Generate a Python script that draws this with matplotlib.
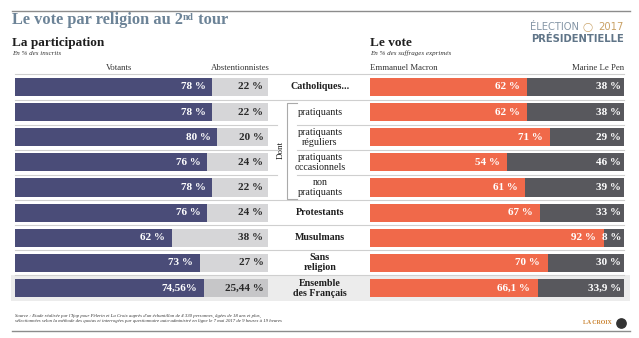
import matplotlib
matplotlib.use("Agg")
import matplotlib.pyplot as plt
from matplotlib.transforms import blended_transform_factory
from matplotlib.patches import Rectangle

# --- data -----------------------------------------------------------------
categories = ["Catholiques...", "pratiquants", "pratiquants\nréguliers",
              "pratiquants\noccasionnels", "non\npratiquants", "Protestants",
              "Musulmans", "Sans\nreligion", "Ensemble\ndes Français"]
bold_rows = [True, False, False, False, False, True, True, True, True]
votants = [78, 78, 80, 76, 78, 76, 62, 73, 74.56]
abstention = [22, 22, 20, 24, 22, 24, 38, 27, 25.44]
macron = [62, 62, 71, 54, 61, 67, 92, 70, 66.1]
le_pen = [38, 38, 29, 46, 39, 33, 8, 30, 33.9]

# --- style ----------------------------------------------------------------
W, H = 639, 338
C_VOT = "#4a4c78"
C_ABS = "#d6d6d8"
C_ABS_TOT = "#c6c6c8"
C_MAC = "#f0694a"
C_LEP = "#58585d"
C_SEP = "#cfcfcf"
C_TXT = "#1e1e1e"
SERIF = "Liberation Serif"


def pct(v):
    s = f"{v:g}".replace(".", ",")
    return f"{s} %"


fig = plt.figure(figsize=(W / 100, H / 100), dpi=100)
fig.patch.set_facecolor("white")

# pixel-space canvas for the frame, headers and separators
bg = fig.add_axes([0, 0, 1, 1])
bg.set_xlim(0, W)
bg.set_ylim(H, 0)
bg.axis("off")

# bar panels share the same row geometry
top_px, bot_px = 74.4, 300.6
ax_b = 1 - bot_px / H
ax_h = (bot_px - top_px) / H
ax_l = fig.add_axes([15 / W, ax_b, 253 / W, ax_h])
ax_r = fig.add_axes([370 / W, ax_b, 254 / W, ax_h])
n = len(categories)
rows = list(range(n))
for ax in (ax_l, ax_r):
    ax.set_xlim(0, 100)
    ax.set_ylim(n - 0.5, -0.5)
    ax.axis("off")
    ax.patch.set_alpha(0)

mix = blended_transform_factory(bg.transData, ax_l.transData)

# highlighted band behind the overall row
bg.add_patch(Rectangle((11, n - 1.5), 619, 1.0, transform=mix,
                       facecolor="#ececec", edgecolor="none", zorder=0))

# row separators
for i in range(n - 1):
    y = i + 0.5
    if 1 <= i <= 3:
        segs = [(15, 277), (297, 624)]
    else:
        segs = [(15, 624)]
    for x0, x1 in segs:
        bg.plot([x0, x1], [y, y], color=C_SEP, lw=0.8, transform=mix, zorder=1)

# bars
abs_colors = [C_ABS] * (n - 1) + [C_ABS_TOT]
h = 0.72
ax_l.barh(rows, votants, height=h, color=C_VOT, zorder=2)
ax_l.barh(rows, abstention, left=votants, height=h, color=abs_colors, zorder=2)
ax_r.barh(rows, macron, height=h, color=C_MAC, zorder=2)
ax_r.barh(rows, le_pen, left=macron, height=h, color=C_LEP, zorder=2)

vfont = dict(fontfamily=SERIF, fontweight="bold", fontsize=8, va="center", ha="right")
for i in rows:
    vlab = pct(votants[i]).replace(" %", "%") if i == n - 1 else pct(votants[i])
    ax_l.annotate(vlab, (votants[i], i), xytext=(-5, 0),
                  textcoords="offset points", color="white", **vfont)
    ax_l.annotate(pct(abstention[i]), (100, i), xytext=(-3.3, 0),
                  textcoords="offset points", color="#2a2a2a", **vfont)
    ax_r.annotate(pct(macron[i]), (macron[i], i), xytext=(-5.5, 0),
                  textcoords="offset points", color="white", **vfont)
    ax_r.annotate(pct(le_pen[i]), (100, i), xytext=(-2.2, 0),
                  textcoords="offset points", color="white", **vfont)

# category labels in the middle column
for i, (lab, b) in enumerate(zip(categories, bold_rows)):
    bg.text(320, i, lab, transform=mix, ha="center", va="center",
            fontfamily=SERIF, fontweight="bold" if b else "normal",
            fontsize=7.2, color=C_TXT, linespacing=1.15, zorder=3)

# "Dont" bracket grouping the Catholic sub-rows
bg.plot([297, 287, 287, 297], [0.62, 0.62, 4.45, 4.45], color="#aaaaaa",
        lw=0.8, transform=mix, zorder=3)
bg.text(280.5, 2.5, "Dont", transform=mix, rotation=90, ha="center", va="center",
        fontfamily=SERIF, fontsize=6.5, color=C_TXT)

# --- header -----------------------------------------------------------------
bg.plot([12, 630], [11, 11], color="#8c8c8c", lw=1.0)
TITLE_KW = dict(fontfamily=SERIF, fontweight="bold", color="#6c8397")
title = bg.text(12, 20, "Le vote par religion au 2", fontsize=11.8,
                va="center", **TITLE_KW)
sup = bg.annotate("nd", xy=(1, 0.95), xycoords=title, va="top", ha="left",
                  fontsize=7, **TITLE_KW)
bg.annotate(" tour", xy=(1, 0), xycoords=(sup, title), va="bottom", ha="left",
            fontsize=11.8, **TITLE_KW)

bg.text(12, 43, "La participation", fontfamily=SERIF, fontweight="bold",
        fontsize=9.5, color=C_TXT, va="center")
bg.text(12, 53.5, "En % des inscrits", fontfamily=SERIF, style="italic",
        fontsize=5, color="#333333", va="center")
bg.text(370, 43, "Le vote", fontfamily=SERIF, fontweight="bold",
        fontsize=9.5, color=C_TXT, va="center")
bg.text(370, 53.5, "En % des suffrages exprimés", fontfamily=SERIF, style="italic",
        fontsize=5, color="#333333", va="center")

hfont = dict(fontfamily=SERIF, fontsize=6.3, color="#333333", va="center")
bg.text(119, 68.5, "Votants", ha="center", **hfont)
bg.text(240, 68.5, "Abstentionnistes", ha="center", **hfont)
bg.text(370, 68.5, "Emmanuel Macron", ha="left", **hfont)
bg.text(624, 68.5, "Marine Le Pen", ha="right", **hfont)
bg.plot([15, 624], [73.5, 73.5], color=C_SEP, lw=0.8)

# election badge
bg.text(530, 27, "ÉLECTION", fontfamily="DejaVu Sans", fontsize=7.2,
        color="#8596a6", va="center", ha="left")
bg.text(624, 27, "2017", fontfamily="DejaVu Sans", fontsize=7.2,
        color="#c9a165", va="center", ha="right")
bg.text(588, 27, "◯", fontfamily="DejaVu Sans", fontsize=6.5,
        color="#c9a165", va="center", ha="center")
bg.text(624, 39.5, "PRÉSIDENTIELLE", fontfamily="DejaVu Sans", fontweight="bold",
        fontsize=7.2, color="#607588", va="center", ha="right")

# --- footer -----------------------------------------------------------------
src = ("Source : Etude réalisée par l'Ifop pour Pèlerin et La Croix auprès d'un "
       "échantillon de 4 330 personnes, âgées de 18 ans et plus,\n"
       "sélectionnées selon la méthode des quotas et interrogées par questionnaire "
       "auto-administré en ligne le 7 mai 2017 de 9 heures à 19 heures")
bg.text(15, 318.5, src, fontfamily=SERIF, style="italic", fontsize=3.45,
        color="#333333", va="center", linespacing=1.35)
bg.text(612, 323, "LA CROIX", fontfamily=SERIF, fontweight="bold", fontsize=4.2,
        color="#c9822f", va="center", ha="right")
bg.scatter([621], [323], s=45, color="#333333", zorder=3)
bg.plot([12, 630], [331, 331], color="#8c8c8c", lw=1.0)

fig.savefig("out.png", dpi=100, facecolor="white")
